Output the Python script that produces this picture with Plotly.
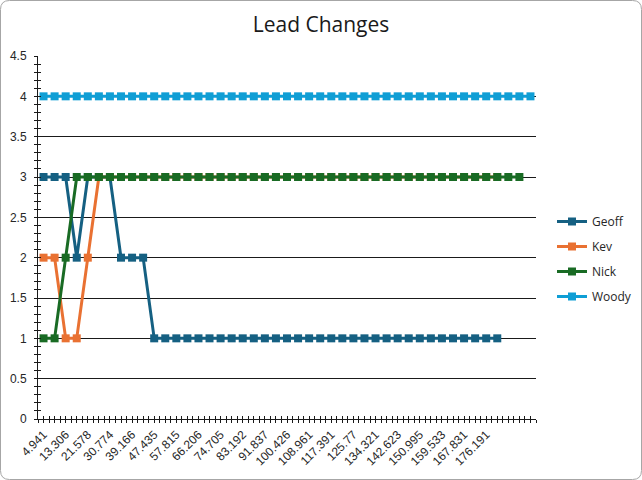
import plotly.graph_objects as go

# ---- data ----
x_labels = ["4.941", "13.306", "21.578", "30.774", "39.166", "47.435", "57.815",
            "66.206", "74.705", "83.192", "91.837", "100.426", "108.961", "117.391",
            "125.77", "134.321", "142.623", "150.995", "159.533", "167.831", "176.191"]
label_step = 2
n_categories = 45

geoff = [3, 3, 3, 2, 3, 3, 3, 2, 2, 2,
         1, 1, 1, 1, 1, 1, 1, 1, 1, 1,
         1, 1, 1, 1, 1, 1, 1, 1, 1, 1,
         1, 1, 1, 1, 1, 1, 1, 1, 1, 1,
         1, 1]
kev = [2, 2, 1, 1, 2, 3, 3, 3, 3, 3,
       3, 3, 3, 3, 3, 3, 3, 3, 3, 3,
       3, 3, 3, 3, 3, 3, 3, 3, 3, 3,
       3, 3, 3, 3, 3, 3, 3, 3, 3, 3,
       3, 3]
nick = [1, 1, 2, 3, 3, 3, 3, 3, 3, 3,
        3, 3, 3, 3, 3, 3, 3, 3, 3, 3,
        3, 3, 3, 3, 3, 3, 3, 3, 3, 3,
        3, 3, 3, 3, 3, 3, 3, 3, 3, 3,
        3, 3, 3, 3]
woody = [4, 4, 4, 4, 4, 4, 4, 4, 4, 4,
         4, 4, 4, 4, 4, 4, 4, 4, 4, 4,
         4, 4, 4, 4, 4, 4, 4, 4, 4, 4,
         4, 4, 4, 4, 4, 4, 4, 4, 4, 4,
         4, 4, 4, 4, 4]

series_names = ["Geoff", "Kev", "Nick", "Woody"]
series_values = [geoff, kev, nick, woody]
series_colors = ["#156082", "#E97132", "#196B24", "#0F9ED5"]

# ---- layout constants ----
W, H = 642, 480
L, R, T, B = 38, 106, 56, 61
PW, PH = W - L - R, H - T - B
TXT = "#262626"
AX = "#1a1a1a"
TICKFONT = dict(family="Liberation Sans, Arial, sans-serif", size=12, color=TXT)

fig = go.Figure()
for name, vals, color in zip(series_names, series_values, series_colors):
    fig.add_trace(go.Scatter(
        x=list(range(len(vals))), y=vals, mode="lines+markers", name=name,
        legendgroup=name,
        line=dict(color=color, width=3),
        marker=dict(symbol="square", size=8, color=color, line=dict(width=0)),
    ))

# invisible trace to create overlay axes for crossing tick marks
fig.add_trace(go.Scatter(x=[None], y=[None], xaxis="x2", yaxis="y2",
                         showlegend=False, hoverinfo="skip"))

tickvals = [i * label_step for i in range(len(x_labels))]
xrange = [-0.5, n_categories - 0.5]
yrange = [0, 4.5]

common_x = dict(range=xrange, tickvals=tickvals, ticklen=3, tickcolor=AX,
                tickwidth=1, showgrid=False, zeroline=False)
common_y = dict(range=yrange, dtick=0.5, tick0=0, ticklen=3, tickcolor=AX,
                tickwidth=1, zeroline=False)

def fx(px):
    return (px - L) / PW

def fy(py):
    return (H - B - py) / PH

x0, y0, x1, y1, r = 0.5, 0.5, W - 0.5, H - 0.5, 9
path = (f"M {fx(x0 + r)} {fy(y0)} L {fx(x1 - r)} {fy(y0)} "
        f"Q {fx(x1)} {fy(y0)} {fx(x1)} {fy(y0 + r)} "
        f"L {fx(x1)} {fy(y1 - r)} Q {fx(x1)} {fy(y1)} {fx(x1 - r)} {fy(y1)} "
        f"L {fx(x0 + r)} {fy(y1)} Q {fx(x0)} {fy(y1)} {fx(x0)} {fy(y1 - r)} "
        f"L {fx(x0)} {fy(y0 + r)} Q {fx(x0)} {fy(y0)} {fx(x0 + r)} {fy(y0)} Z")

fig.update_layout(
    width=W, height=H, autosize=False,
    margin=dict(l=L, r=R, t=T, b=B, pad=0, autoexpand=False),
    paper_bgcolor="white", plot_bgcolor="white",
    title=dict(text="Lead Changes", x=0.5, xref="container", xanchor="center",
               y=1 - 25 / H, yref="container", yanchor="middle",
               font=dict(family="Open Sans", size=21, color="#1a1a1a")),
    xaxis=dict(**common_x, ticktext=x_labels, tickangle=-45, ticks="outside",
               showline=True, linecolor=AX, linewidth=1,
               tickfont=TICKFONT,
               minor=dict(tick0=-0.5, dtick=0.5, ticks="outside", ticklen=3,
                          tickcolor=AX, tickwidth=1)),
    yaxis=dict(**common_y, ticks="outside", showline=True, linecolor=AX,
               linewidth=1, showgrid=True, gridcolor=AX, gridwidth=1,
               tickfont=TICKFONT, ticklabelstandoff=5,
               minor=dict(tick0=0, dtick=0.1, ticks="outside", ticklen=3,
                          tickcolor=AX, tickwidth=1, showgrid=False)),
    xaxis2=dict(**common_x, overlaying="x", anchor="y2", ticks="inside",
                showticklabels=False, showline=False,
                minor=dict(tick0=-0.5, dtick=0.5, ticks="inside", ticklen=3,
                           tickcolor=AX, tickwidth=1)),
    yaxis2=dict(**common_y, overlaying="y", anchor="x2", side="left",
                ticks="inside", showticklabels=False, showline=False,
                showgrid=False,
                minor=dict(tick0=0, dtick=0.1, ticks="inside", ticklen=3,
                           tickcolor=AX, tickwidth=1)),
    legend=dict(x=fx(552), y=fy(259), xanchor="left", yanchor="middle",
                font=dict(family="Open Sans", size=12, color=TXT),
                tracegroupgap=6, bgcolor="rgba(0,0,0,0)", itemwidth=30),
    shapes=[dict(type="path", path=path, xref="paper", yref="paper",
                 line=dict(color="#A6A6A6", width=1), layer="below")],
    showlegend=True,
)

fig.write_html(
    "out.html",
    config={"displayModeBar": False, "responsive": False},
    default_width="642px", default_height="480px",
    post_script="document.body.style.margin='0';document.body.style.padding='0';"
                "document.body.style.overflow='hidden';"
                "document.documentElement.style.overflow='hidden';",
)
